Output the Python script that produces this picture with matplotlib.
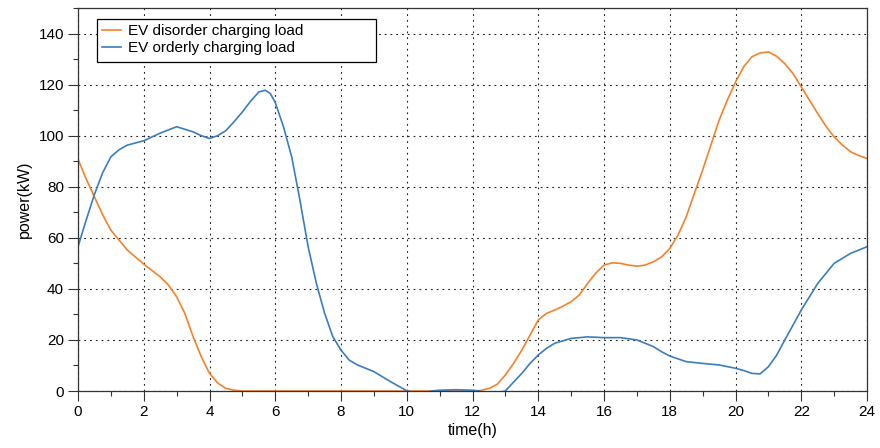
import numpy as np
import matplotlib
matplotlib.use("Agg")
import matplotlib.pyplot as plt
from matplotlib.patches import Rectangle
from matplotlib.ticker import MultipleLocator

# values (kW), denser where the curves bend
disorder_h = [0, 0.25, 0.5, 0.75, 1, 1.5, 2, 2.5, 2.75, 3, 3.25, 3.5, 3.75, 4,
              4.25, 4.5, 4.75, 5, 12, 12.25, 12.5, 12.75, 13, 13.25, 13.5,
              13.75, 14, 14.25, 14.5, 14.75, 15, 15.25, 15.5, 15.75, 16,
              16.25, 16.5, 16.75, 17, 17.25, 17.5, 17.75, 18, 18.25, 18.5,
              18.75, 19, 19.25, 19.5, 19.75, 20, 20.25, 20.5, 20.75, 21,
              21.25, 21.5, 21.75, 22, 22.25, 22.5, 22.75, 23, 23.25, 23.5,
              23.75, 24]
disorder = [90.8, 83.0, 76.0, 69.0, 63.0, 55.2, 49.7, 44.7, 41.5, 36.9, 30.4,
            21.3, 13.4, 6.9, 3.1, 1.0, 0.3, 0, 0, 0.2, 1.0, 2.6, 6.3, 10.8,
            16.0, 21.9, 27.8, 30.4, 31.7, 33.2, 35.0, 37.6, 42.1, 46.2, 49.3,
            50.2, 50.0, 49.3, 48.9, 49.3, 50.6, 52.5, 55.8, 61.0, 68.2, 77.4,
            86.5, 96.3, 106.0, 113.9, 121.0, 127.0, 130.9, 132.4, 132.8,
            131.1, 128.2, 124.3, 119.1, 113.9, 108.7, 103.7, 99.5, 96.3,
            93.7, 92.2, 91.1]

orderly_h = [0, 0.25, 0.5, 0.75, 1, 1.25, 1.5, 2, 2.5, 3, 3.5, 3.75, 4, 4.25,
             4.5, 4.75, 5, 5.25, 5.5, 5.7, 5.85, 6, 6.25, 6.5, 6.75, 7, 7.25,
             7.5, 7.75, 8, 8.25, 8.5, 9, 9.5, 10, 10.4, 10.75, 11, 11.5, 12,
             12.2, 12.5, 13, 13.25, 13.5, 13.75, 14, 14.25, 14.5, 15, 15.5,
             16, 16.5, 17, 17.5, 17.75, 18, 18.5, 19, 19.5, 20, 20.25, 20.5,
             20.75, 21, 21.25, 21.5, 21.75, 22, 22.5, 23, 23.5, 24]
orderly = [56.5, 67.0, 77.0, 85.5, 91.7, 94.5, 96.3, 98.0, 101.0, 103.5,
           101.5, 100.0, 98.9, 100.0, 102.0, 105.5, 109.3, 113.5, 117.1,
           117.8, 116.5, 113.0, 103.5, 91.7, 74.8, 56.5, 42.2, 30.5, 21.3,
           16.0, 12.1, 10.2, 7.6, 3.7, 0.1, -1.5, 0.0, 0.3, 0.5, 0.3, 0.0,
           -1.5, 0.0, 3.5, 6.9, 10.8, 14.1, 16.7, 18.7, 20.6, 21.2, 20.9,
           20.9, 20.0, 17.4, 15.4, 13.7, 11.5, 10.8, 10.2, 8.9, 8.0, 6.9,
           6.7, 9.5, 14.0, 20.0, 25.8, 31.7, 42.1, 50.0, 53.9, 56.5]

plt.rcParams['font.family'] = ['Liberation Sans', 'DejaVu Sans']

fig = plt.figure(figsize=(8.8, 4.48), dpi=100)
ax = fig.add_axes([78 / 880, 57 / 448, 789 / 880, 383 / 448])

ax.plot(disorder_h, disorder, color='#F5822A', lw=1.2,
        label='EV disorder charging load')
ax.plot(orderly_h, orderly, color='#3A7DC2', lw=1.2,
        label='EV orderly charging load')

ax.set_xlim(0, 24)
ax.set_ylim(0, 150)
ax.xaxis.set_major_locator(MultipleLocator(2))
ax.xaxis.set_minor_locator(MultipleLocator(1))
ax.yaxis.set_minor_locator(MultipleLocator(10))
ax.set_yticks(np.arange(0, 141, 20))

ax.grid(True, which='major', color='#222222', lw=0.8, linestyle=(0, (1.6, 3.6)))
ax.tick_params(which='major', direction='out', length=7, width=0.8,
               labelsize=11, color='#333333', pad=3)
ax.tick_params(which='minor', direction='out', length=3.5, width=0.8,
               color='#333333')
for s in ax.spines.values():
    s.set_color('#333333')
    s.set_linewidth(0.9)

ax.set_xlabel('time(h)', fontsize=11.5, labelpad=3)
ax.set_ylabel('power(kW)', fontsize=11.5, labelpad=5)

# legend frame is wider than its text in the reference, so draw it by hand
ax.add_patch(Rectangle((19 / 789, 329 / 383), 279 / 789, 43 / 383,
                       transform=ax.transAxes, facecolor='white',
                       edgecolor='black', lw=0.9, zorder=4))
leg = ax.legend(loc='upper left', bbox_to_anchor=(19 / 789, 372 / 383),
                borderaxespad=0, frameon=False, fontsize=11,
                handlelength=1.2, handletextpad=0.45, labelspacing=0.2,
                borderpad=0.35)
leg.set_zorder(5)

fig.savefig('out.png', dpi=100)
